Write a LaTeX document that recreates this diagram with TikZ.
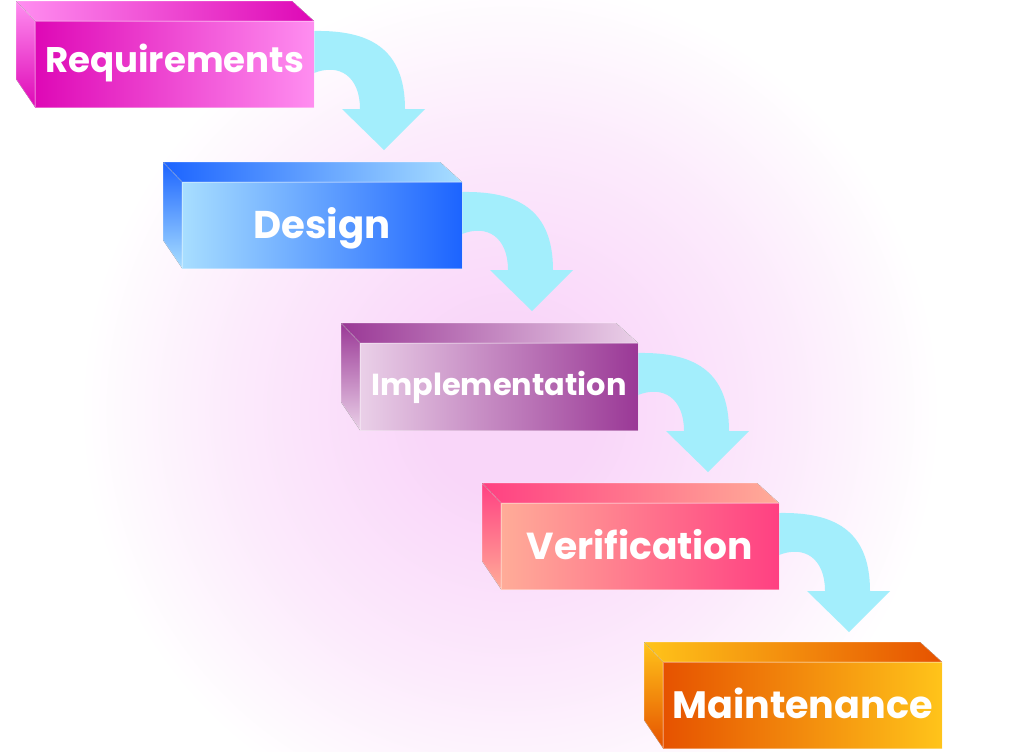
\documentclass[tikz,border=0pt]{standalone}
\usepackage{fontspec}
\setmainfont{Poppins}
\usetikzlibrary{calc}

% face colours: A = front-left / top-right / left-bottom, B = the opposite ends
\definecolor{reqA}{RGB}{222,8,182}
\definecolor{reqB}{RGB}{255,142,240}
\definecolor{desA}{RGB}{168,222,255}
\definecolor{desB}{RGB}{28,100,255}
\definecolor{impA}{RGB}{234,208,232}
\definecolor{impB}{RGB}{154,56,150}
\definecolor{verA}{RGB}{255,172,152}
\definecolor{verB}{RGB}{255,64,130}
\definecolor{mntA}{RGB}{230,82,0}
\definecolor{mntB}{RGB}{255,196,26}
\definecolor{flowcyan}{RGB}{163,238,252}
\definecolor{glowpink}{RGB}{249,214,249}

% soft round glow; the 25bp ring lands on the rim of the shaded circle
\pgfdeclareradialshading{pinkglow}{\pgfpoint{0bp}{0bp}}{%
  color(0bp)=(glowpink); color(5bp)=(glowpink);
  color(16bp)=(glowpink!50!white); color(25bp)=(white); color(50bp)=(white)}

\tikzset{
  face/.style={draw=white, draw opacity=0.35, line width=0.5pt},
  stagelabel/.style={text=white, inner sep=0pt, anchor=base},
  labelsize/.style={font=\fontsize{#1}{#1}\selectfont\bfseries, yshift=-0.35*#1},
  flow/.style={fill=flowcyan},
}

% \stage{name}{x0}{y0}{x1}{y1}{colour A}{colour B}{label options}{text}
% (x0,y0)-(x1,y1) is the front face in pixel units, y pointing down
\newcommand{\stage}[9]{%
  \coordinate (#1-nw) at (#2,#3);
  \coordinate (#1-ne) at (#4,#3);
  \coordinate (#1-se) at (#4,#5);
  \coordinate (#1-sw) at (#2,#5);
  % top face
  \filldraw[face, left color=#7, right color=#6]
    ($(#1-nw)+(-19,-20)$) -- ($(#1-ne)+(-22,-20)$) -- (#1-ne) -- (#1-nw) -- cycle;
  % left face
  \filldraw[face, top color=#7, bottom color=#6]
    ($(#1-nw)+(-19,-20)$) -- (#1-nw) -- (#1-sw) -- ($(#1-sw)+(-19,-28)$) -- cycle;
  % front face
  \filldraw[face, left color=#6, right color=#7] (#1-nw) rectangle (#1-se);
  \node[stagelabel, #8] (#1) at ($(#1-nw)!0.5!(#1-se)$) {#9};
}

% curved arrow leaving the right side of a stage and pointing down
\newcommand{\flowarrow}[1]{%
  \begin{scope}[shift={(#1-ne)}]
    \fill[flow] (0,10) .. controls (55,9) and (91,27) .. (91,88)
      -- (111,88) -- (70,129) -- (28,88) -- (46,88)
      .. controls (46,55) and (25,42) .. (0,52) -- cycle;
  \end{scope}
}

\begin{document}
\begin{tikzpicture}[x=0.75pt, y=-0.75pt]
  \useasboundingbox (0,0) rectangle (1024,751);
  \fill[white] (0,0) rectangle (1024,751);

  % soft pink glow behind the steps
  \begin{scope}
    \clip (0,0) rectangle (1024,751);
    \shade[shading=pinkglow] (510,410) circle (430);
  \end{scope}

  % right-hand corners of the stage fronts, where the arrows start
  \coordinate (req-ne) at (314,21);
  \coordinate (des-ne) at (462,182);
  \coordinate (imp-ne) at (638,343);
  \coordinate (ver-ne) at (779,503);

  \flowarrow{req}
  \flowarrow{des}
  \flowarrow{imp}
  \flowarrow{ver}

  \stage{req}{35}{21}{314}{107}{reqA}{reqB}{labelsize=26.7pt, yshift=3pt}{Requirements}
  \stage{des}{182}{182}{462}{268}{desA}{desB}{labelsize=29pt}{Design}
  \stage{imp}{360}{343}{638}{430}{impA}{impB}{labelsize=22.8pt, yshift=1.5pt}{Implementation}
  \stage{ver}{501}{503}{779}{589}{verA}{verB}{labelsize=28.2pt}{Verification}
  \stage{mnt}{663}{662}{942}{748}{mntA}{mntB}{labelsize=28.6pt}{Maintenance}
\end{tikzpicture}
\end{document}
